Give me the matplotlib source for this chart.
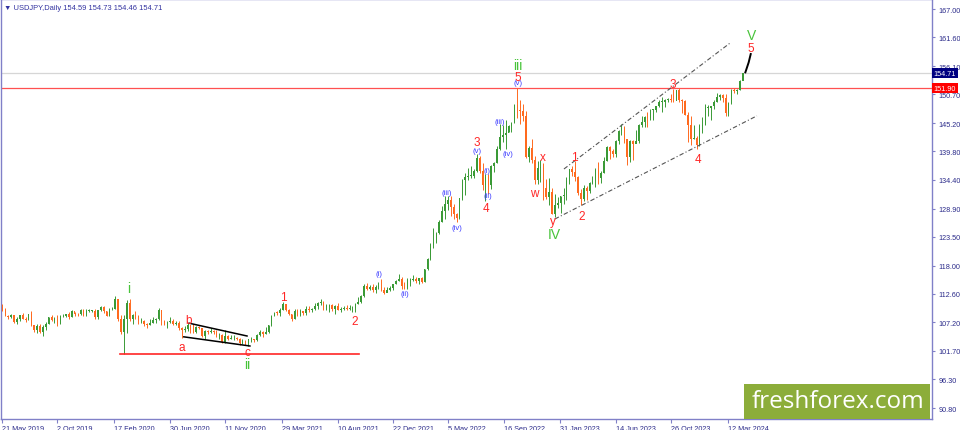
import matplotlib
matplotlib.use('Agg')
import matplotlib.pyplot as plt
import matplotlib.dates as mdates
import matplotlib.transforms as mtrans
from matplotlib.patches import Rectangle
import numpy as np
import pandas as pd

# ---------------- data (weekly candles, week of 20 May 2019 .. week of 15 Apr 2024) ----------------
first_open = 110.1
week_close = [
    # 2019
    109.3, 108.3, 108.2, 108.5, 107.3, 107.9, 108.5, 107.9, 107.7, 108.7, 106.6, 105.7, 106.4, 105.4,
    106.3, 106.9, 108.1, 107.6, 107.9, 106.9, 108.3, 108.4, 108.7, 108.2, 109.3, 108.8, 108.7, 109.5,
    108.6, 109.4, 109.4, 109.4, 108.1,
    # 2020
    109.5, 110.1, 109.3, 108.4, 109.7, 109.8, 111.6, 107.9, 105.4, 107.9, 110.8, 107.9, 108.5, 108.4,
    107.5, 107.5, 106.9, 106.6, 107.1, 107.6, 107.8, 109.6, 107.4, 106.9, 107.2, 107.5, 106.9, 107.0,
    106.1, 105.8, 105.9, 106.6, 105.8, 105.4, 106.2, 106.1, 104.6, 105.6, 105.3, 105.6, 105.4, 104.7,
    104.7, 103.4, 104.6, 103.9, 104.1, 104.2, 104.0, 103.3, 103.6, 103.2,
    # 2021
    103.9, 103.9, 103.8, 104.7, 105.4, 104.9, 105.4, 106.6, 108.3, 109.0, 108.9, 109.6, 110.7, 109.6,
    108.8, 107.9, 109.3, 108.6, 109.4, 108.9, 109.8, 109.5, 109.7, 110.2, 110.8, 111.0, 110.1, 110.1,
    110.5, 109.7, 110.2, 109.6, 109.8, 109.8, 109.7, 109.9, 109.9, 110.7, 111.0, 112.2, 114.2, 113.5,
    114.0, 113.4, 113.9, 114.0, 113.4, 112.8, 113.4, 113.7, 114.4, 115.1,
    # 2022
    115.5, 114.2, 113.7, 115.2, 115.2, 115.4, 115.0, 115.6, 114.8, 117.3, 119.2, 122.0, 122.5, 124.3,
    126.4, 128.5, 129.8, 130.6, 129.2, 127.9, 127.1, 130.9, 134.4, 135.0, 135.2, 135.2, 136.1, 138.5,
    136.1, 133.3, 135.0, 133.4, 137.0, 137.6, 140.2, 142.6, 142.9, 143.3, 144.7, 145.3, 148.7, 147.7,
    147.5, 146.6, 138.8, 140.4, 138.2, 134.3, 136.6, 136.7, 132.9, 131.1,
    # 2023
    132.1, 127.9, 129.6, 129.9, 131.2, 131.4, 134.2, 136.5, 135.9, 135.0, 131.8, 130.7, 132.8, 132.2,
    133.8, 134.1, 136.3, 134.8, 135.7, 138.0, 140.6, 139.9, 139.4, 141.8, 143.7, 144.3, 142.1, 138.8,
    141.8, 141.2, 141.8, 144.9, 145.4, 146.4, 146.2, 147.8, 147.8, 148.4, 149.3, 149.3, 149.6, 149.9,
    149.6, 149.4, 151.5, 149.6, 149.4, 146.8, 144.9, 142.2, 142.4, 141.0,
    # 2024
    144.6, 144.9, 148.1, 148.1, 148.4, 149.3, 150.2, 150.5, 150.1, 147.1, 149.1, 151.4, 151.35, 151.6,
    153.3, 154.71,
]
week_high = [
    # 2019
    110.7, 109.9, 108.5, 108.8, 108.6, 108.2, 108.6, 108.9, 108.2, 108.8, 109.3, 106.6, 106.9, 106.8,
    106.7, 107.2, 108.2, 108.5, 108.1, 108.5, 108.6, 108.8, 108.8, 109.1, 109.5, 109.2, 109.0, 109.7,
    109.7, 109.7, 109.7, 109.6, 109.7,
    # 2020
    109.6, 110.3, 110.2, 109.3, 110.0, 110.1, 112.2, 111.7, 108.5, 108.5, 111.5, 111.7, 108.7, 109.4,
    108.5, 108.0, 107.6, 107.0, 107.8, 108.1, 108.0, 109.9, 109.6, 107.6, 107.5, 108.2, 107.8, 107.4,
    107.4, 106.2, 106.5, 107.0, 106.6, 106.9, 106.5, 106.4, 106.1, 105.7, 105.8, 106.1, 105.8, 105.7,
    105.1, 104.9, 105.7, 104.8, 104.8, 104.7, 104.3, 104.1, 103.9, 103.7,
    # 2021
    104.0, 104.4, 104.0, 104.9, 105.8, 105.6, 106.2, 106.7, 108.6, 109.2, 109.4, 109.9, 110.97, 110.6,
    109.8, 108.8, 109.7, 109.7, 109.8, 109.3, 110.2, 110.3, 109.9, 110.8, 111.0, 111.7, 111.2, 110.7,
    110.6, 110.6, 110.4, 110.8, 110.1, 110.3, 110.4, 110.4, 110.2, 110.8, 112.1, 112.4, 114.5, 114.7,
    114.3, 114.4, 114.3, 114.9, 115.5, 113.9, 113.9, 114.2, 114.5, 115.2,
    # 2022
    116.35, 115.8, 114.9, 115.7, 115.6, 116.3, 115.8, 115.7, 115.8, 117.4, 119.4, 122.4, 125.1, 124.4,
    126.7, 129.4, 131.25, 131.35, 131.3, 129.8, 128.0, 131.0, 134.6, 135.6, 136.7, 137.0, 136.4, 139.4,
    138.9, 137.5, 135.5, 135.5, 137.2, 137.7, 140.8, 145.0, 144.9, 145.9, 144.9, 145.4, 148.9, 151.95,
    149.7, 148.8, 147.6, 140.8, 142.2, 139.0, 137.9, 138.2, 137.5, 134.5,
    # 2023
    134.8, 132.9, 131.6, 131.1, 131.2, 132.9, 135.0, 136.5, 137.1, 137.9, 135.1, 132.6, 133.4, 133.2,
    134.0, 135.1, 136.6, 137.8, 136.0, 138.8, 140.9, 140.9, 140.2, 141.9, 143.9, 145.1, 144.7, 142.0,
    141.9, 142.0, 143.9, 145.0, 146.6, 146.6, 147.4, 147.9, 147.9, 148.5, 149.7, 150.2, 149.8, 150.1,
    150.8, 151.7, 151.6, 151.9, 149.8, 149.7, 147.4, 146.6, 144.9, 142.8,
    # 2024
    145.0, 146.4, 148.8, 148.7, 148.5, 149.6, 150.9, 150.8, 150.8, 150.7, 149.2, 151.8, 151.97, 151.8,
    153.4, 154.8,
]
week_low = [
    # 2019
    109.3, 108.3, 107.8, 108.0, 107.0, 106.8, 107.5, 107.8, 107.2, 107.6, 106.5, 105.3, 105.1, 105.1,
    104.5, 105.7, 106.8, 107.5, 107.0, 106.5, 106.8, 108.1, 108.2, 107.9, 108.2, 108.3, 108.3, 108.6,
    108.4, 108.4, 109.2, 109.2, 107.9,
    # 2020
    107.8, 109.4, 109.0, 108.3, 108.3, 109.5, 109.7, 107.5, 105.0, 101.18, 105.2, 107.5, 106.9, 107.8,
    106.9, 107.1, 106.4, 106.0, 106.6, 107.0, 107.1, 107.6, 106.6, 106.6, 106.1, 107.0, 106.6, 106.6,
    105.7, 104.2, 105.3, 105.6, 105.1, 105.2, 105.1, 105.9, 104.3, 104.0, 105.0, 105.2, 104.9, 104.3,
    104.0, 103.2, 103.2, 103.7, 103.9, 103.7, 103.7, 102.9, 103.1, 102.9,
    # 2021
    102.6, 103.5, 103.4, 103.6, 104.6, 104.4, 104.9, 105.1, 106.4, 108.3, 108.6, 108.4, 109.6, 109.4,
    108.6, 107.5, 107.8, 108.3, 108.3, 108.6, 108.6, 109.2, 109.2, 109.5, 109.7, 110.5, 109.5, 109.6,
    109.1, 109.4, 108.7, 109.5, 109.1, 109.5, 109.6, 109.6, 109.1, 109.1, 110.6, 110.8, 112.1, 113.4,
    113.3, 113.0, 112.7, 113.6, 113.1, 112.5, 112.9, 113.1, 113.4, 114.4,
    # 2022
    115.0, 113.5, 113.5, 113.5, 114.2, 115.0, 114.6, 114.4, 114.7, 114.8, 117.1, 119.0, 121.3, 122.4,
    124.1, 126.3, 126.9, 128.6, 127.5, 126.9, 126.4, 126.9, 130.6, 131.5, 134.3, 134.8, 134.8, 135.9,
    135.6, 132.5, 130.4, 131.7, 132.6, 135.8, 137.6, 140.0, 141.6, 140.35, 143.5, 143.5, 145.3, 146.2,
    145.1, 145.7, 138.5, 137.7, 137.5, 133.6, 133.6, 134.0, 130.6, 130.8,
    # 2023
    129.5, 127.8, 127.2, 129.0, 128.1, 129.8, 130.6, 133.6, 135.2, 134.1, 131.4, 129.6, 130.4, 130.6,
    131.9, 133.6, 133.0, 133.5, 133.7, 135.6, 137.9, 138.4, 138.8, 138.8, 141.2, 143.0, 141.5, 137.2,
    137.7, 138.1, 141.5, 141.5, 144.5, 144.5, 144.5, 145.9, 145.9, 147.3, 148.3, 147.3, 148.2, 149.2,
    149.3, 149.2, 149.6, 149.2, 147.1, 146.7, 141.6, 141.0, 142.2, 140.25,
    # 2024
    140.8, 143.4, 144.9, 146.6, 145.9, 148.0, 149.2, 149.7, 149.2, 146.5, 146.6, 148.9, 150.9, 150.8,
    151.6, 153.6,
]
week_start = '2019-05-22'

date_ticks = ['2019-05-21', '2019-10-02', '2020-02-17', '2020-06-30', '2020-11-11', '2021-03-29',
              '2021-08-10', '2021-12-22', '2022-05-05', '2022-09-16', '2023-01-31', '2023-06-14',
              '2023-10-26', '2024-03-12']
date_labels = ['21 May 2019', '2 Oct 2019', '17 Feb 2020', '30 Jun 2020', '11 Nov 2020', '29 Mar 2021',
               '10 Aug 2021', '22 Dec 2021', '5 May 2022', '16 Sep 2022', '31 Jan 2023', '14 Jun 2023',
               '26 Oct 2023', '12 Mar 2024']
price_ticks = [167.00, 161.60, 156.10, 150.70, 145.20, 139.80, 134.40, 128.90, 123.50, 118.00,
               112.60, 107.20, 101.70, 96.30, 90.80]

last_price = 154.71
level_price = 151.90
support_price = 101.18

wave_text = ['i', 'a', 'b', 'c', 'ii', '1', '2', '(i)', '(ii)', '(iii)', '(iv)', '3', '(v)', '(i)', '(ii)',
             '4', '(iii)', '(iv)', '(v)', '5', 'iii', 'w', 'x', 'y', 'IV', '1', '2', '3', '4', 'V', '5']
wave_date = ['2020-03-23', '2020-07-29', '2020-08-15', '2021-01-03', '2021-01-03', '2021-04-02',
             '2021-09-21', '2021-11-18', '2022-01-20', '2022-05-02', '2022-05-26', '2022-07-14',
             '2022-07-14', '2022-08-07', '2022-08-09', '2022-08-04', '2022-09-07', '2022-09-27',
             '2022-10-21', '2022-10-21', '2022-10-21', '2022-11-28', '2022-12-20', '2023-01-13',
             '2023-01-16', '2023-03-05', '2023-03-25', '2023-10-31', '2023-12-30', '2024-05-07',
             '2024-05-07']
wave_price = [113.7, 102.5, 107.6, 101.5, 99.2, 112.0, 107.4, 116.4, 112.6, 131.9, 125.2, 141.6,
              139.9, 136.1, 131.3, 129.0, 145.6, 139.5, 152.9, 154.1, 156.4, 131.9, 138.7, 126.5,
              124.0, 138.7, 127.4, 152.7, 138.4, 162.0, 159.6]
wave_kind = ['G', 'R', 'R', 'R', 'G', 'R', 'R', 'B', 'B', 'B', 'B', 'R', 'B', 'B', 'B',
             'R', 'B', 'B', 'B', 'R', 'G', 'R', 'R', 'R', 'G', 'R', 'R', 'R', 'R', 'G', 'R']

support_dates = ['2020-03-02', '2021-10-01']
tri_upper = (['2020-08-16', '2021-01-03'], [107.0, 104.56])
tri_lower = (['2020-08-03', '2021-01-10'], [104.4, 102.65])
chan_upper = (['2023-02-09', '2024-03-17'], [136.45, 160.5])
chan_lower = (['2023-01-18', '2024-05-21'], [126.9, 146.6])
projection = (['2024-04-23', '2024-05-01', '2024-05-06'], [154.9, 156.8, 158.4])

# ---------------- figure ----------------
W, H = 960, 431
fig = plt.figure(figsize=(W / 100, H / 100), dpi=100, facecolor='white')
ax = fig.add_axes([1 / W, 11 / H, 931 / W, 420 / H])
ax.set_facecolor('white')

frame = '#8080c8'
tickc = '#2b2b8a'
up_c = '#3a9a36'
dn_c = '#ff6a1e'
red_c = '#ff2626'
green_c = '#48c43a'
blue_c = '#3c3cff'
font = 'Liberation Sans'
tfs = 5.2

x = mdates.date2num(pd.date_range(week_start, periods=len(week_close), freq='7D'))
c = np.array(week_close)
o = np.concatenate([[first_open], c[:-1]])
hi = np.array(week_high)
lo = np.array(week_low)
up = c >= o
col = np.where(up, up_c, dn_c)

ax.vlines(x, lo, hi, colors=col, linewidth=0.7, zorder=3)
ax.bar(x, np.maximum(np.abs(c - o), 0.15), bottom=np.minimum(o, c), width=3.6,
       color=col, linewidth=0, zorder=4)

def d(s):
    return mdates.date2num(pd.to_datetime(s))

base = d('2019-05-21')
ax.set_xlim(base - 2.42, base + 2250.7)
ax.set_ylim(88.71, 168.91)

# horizontal levels
ax.axhline(last_price, color='#d6d6d6', linewidth=0.9, zorder=1)
ax.axhline(level_price, color='#ff5050', linewidth=0.9, zorder=2)
ax.plot(d(support_dates), [support_price, support_price], color=red_c, linewidth=1.2, zorder=5)

# triangle and channel lines
ax.plot(d(tri_upper[0]), tri_upper[1], color='black', linewidth=1.1, zorder=6)
ax.plot(d(tri_lower[0]), tri_lower[1], color='black', linewidth=1.1, zorder=6)
for ln in (chan_upper, chan_lower):
    ax.plot(d(ln[0]), ln[1], color='#555555', linewidth=0.8, linestyle=(0, (4, 2, 1, 2)), zorder=6)
ax.plot(d(projection[0]), projection[1], color='black', linewidth=1.4, zorder=6)

# wave labels
styles = {'R': (red_c, 8.5), 'G': (green_c, 10.0), 'B': (blue_c, 5.6)}
for t, dt, p, k in zip(wave_text, wave_date, wave_price, wave_kind):
    cc, fs = styles[k]
    ax.text(d(dt), p, t, color=cc, fontsize=fs, ha='center', va='center',
            family=font, zorder=8)

# axes styling
for s in ax.spines.values():
    s.set_color(frame)
    s.set_linewidth(1.0)
ax.yaxis.tick_right()
ax.set_yticks(price_ticks)
ax.set_yticklabels(['%.2f' % v for v in price_ticks])
ax.set_xticks(d(date_ticks))
ax.set_xticklabels(date_labels)
ax.tick_params(axis='y', direction='out', length=2.5, width=0.8, color=frame, labelcolor=tickc,
               labelsize=tfs, pad=2)
ax.tick_params(axis='x', direction='out', length=3, width=0.8, color=frame, labelcolor=tickc,
               labelsize=tfs, pad=1)
for lab in ax.get_xticklabels():
    lab.set_ha('left')
    lab.set_family(font)
for lab in ax.get_yticklabels():
    lab.set_family(font)
ax.grid(False)

# price boxes on the right axis
bt = mtrans.blended_transform_factory(ax.transAxes, ax.transData)
ax.text(1.002, last_price, '%.2f' % last_price, transform=bt, ha='left', va='center', color='white',
        fontsize=tfs, family=font, clip_on=False, zorder=20,
        bbox=dict(boxstyle='square,pad=0.2', fc='#000080', ec='none'))
ax.text(1.002, level_price, '%.2f' % level_price, transform=bt, ha='left', va='center', color='white',
        fontsize=tfs, family=font, clip_on=False, zorder=20,
        bbox=dict(boxstyle='square,pad=0.2', fc='#ff0000', ec='none'))

# title
fig.text(4 / W, 1 - 8 / H, '\u25bc USDJPY,Daily 154.59 154.73 154.46 154.71', color='#3232a0',
         fontsize=5.4, family=font, ha='left', va='center')

# logo
fig.patches.append(Rectangle((744 / W, 11 / H), 186 / W, 35 / H, transform=fig.transFigure,
                             facecolor='#8cad3a', edgecolor='none', zorder=30))
fig.text(838 / W, (H - 402) / H, 'freshforex.com', color='white', fontsize=17.5,
         family='Open Sans', ha='center', va='center', zorder=31)

fig.savefig('out.png', dpi=100, facecolor='white')
